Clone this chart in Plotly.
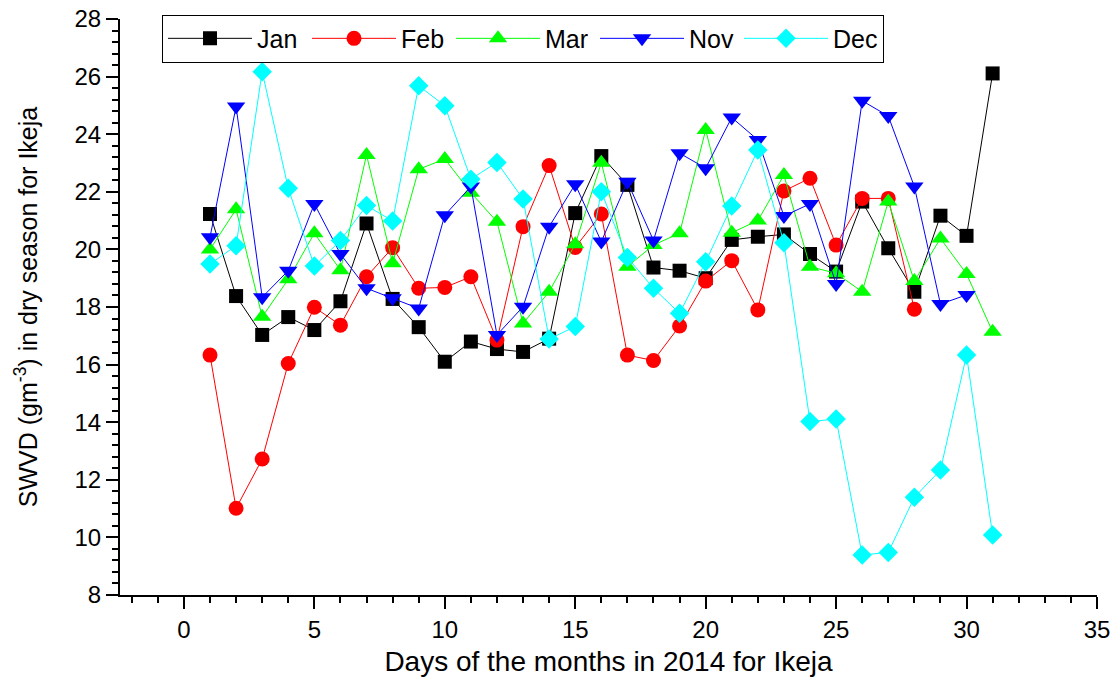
import plotly.graph_objects as go

# ---------------------------------------------------------------------------
# Data
# ---------------------------------------------------------------------------

days = list(range(1, 32))

jan = [21.23, 18.38, 17.03, 17.65, 17.2, 18.2, 20.9, 18.28, 17.3, 16.1,
       16.8, 16.54, 16.44, 16.9, 21.26, 23.24, 22.24, 19.37, 19.26, 19.0,
       20.33, 20.44, 20.52, 19.84, 19.23, 21.66, 20.04, 18.53, 21.17, 20.47,
       26.11]
feb = [16.33, 11.01, 12.72, 16.04, 17.99, 17.37, 19.05, 20.06, 18.65, 18.68,
       19.05, 16.85, 20.79, 22.91, 20.07, 21.23, 16.33, 16.14, 17.34, 18.9,
       19.61, 17.9, 22.03, 22.47, 20.15, 21.77, 21.77, 17.92]
mar = [20.0, 21.39, 17.66, 18.96, 20.56, 19.28, 23.28, 19.52, 22.78, 23.14,
       21.97, 20.96, 17.43, 18.53, 20.18, 23.01, 19.4, 20.15, 20.56, 24.15,
       20.58, 21.0, 22.58, 19.4, 19.17, 18.53, 21.66, 18.9, 20.38, 19.15,
       17.14]
nov = [20.42, 24.96, 18.34, 19.26, 21.58, 19.84, 18.65, 18.3, 17.95, 21.19,
       22.18, 17.03, 18.01, 20.79, 22.26, 20.27, 22.35, 20.31, 23.34, 22.82,
       24.58, 23.8, 21.16, 21.58, 18.8, 25.16, 24.63, 22.18, 18.1, 18.42]
dec = [19.49, 20.13, 26.17, 22.12, 19.42, 20.31, 21.52, 20.99, 25.68, 24.99,
       22.44, 23.02, 21.75, 16.89, 17.32, 22.0, 19.72, 18.65, 17.78, 19.57,
       21.51, 23.45, 20.23, 14.02, 14.11, 9.39, 9.48, 11.39, 12.34, 16.33,
       10.08]

FONT = "Liberation Sans, Arial, sans-serif"


# ---------------------------------------------------------------------------
# One month series
# ---------------------------------------------------------------------------

def _month_trace(name, values, color, symbol, size):
    return go.Scatter(
        x=days[:len(values)],
        y=values,
        mode="lines+markers",
        name=name,
        line=dict(color=color, width=1),
        marker=dict(color=color, symbol=symbol, size=size,
                    line=dict(width=0)),
    )


series = [
    ("Jan", jan, "#000000", "square", 14),
    ("Feb", feb, "#ff0000", "circle", 15),
    ("Mar", mar, "#00ff00", "triangle-up", 16),
    ("Nov", nov, "#0000ff", "triangle-down", 16),
    ("Dec", dec, "#00ffff", "diamond", 15),
]

fig = go.Figure([_month_trace(*s) for s in series])

axis_common = dict(
    showgrid=False,
    zeroline=False,
    showline=True,
    linecolor="black",
    linewidth=2,
    mirror=False,
    ticks="outside",
    ticklen=12,
    tickwidth=2,
    tickcolor="black",
    tickfont=dict(family=FONT, size=24, color="black"),
    automargin=False,
)

fig.update_xaxes(
    **axis_common,
    range=[-2.45, 35.001],
    tick0=0, dtick=5,
    minor=dict(dtick=1, tick0=0, ticks="outside", ticklen=6,
               tickwidth=2, tickcolor="black"),
    title=dict(text="Days of the months in 2014 for Ikeja",
               font=dict(family=FONT, size=28, color="black"),
               standoff=10),
)
fig.update_yaxes(
    **axis_common,
    range=[8, 28],
    tick0=8, dtick=2,
    minor=dict(dtick=0.4, tick0=8, ticks="outside", ticklen=6,
               tickwidth=2, tickcolor="black"),
    title=dict(text="SWVD (gm<sup>-3</sup>) in dry season for Ikeja",
               font=dict(family=FONT, size=25, color="black"),
               standoff=30),
)

fig.update_layout(
    width=1114,
    height=686,
    paper_bgcolor="white",
    plot_bgcolor="white",
    margin=dict(l=120, r=17, t=19, b=91),
    font=dict(family=FONT, color="black"),
    legend=dict(
        orientation="h",
        x=0.043, y=0.966,
        xanchor="left", yanchor="middle",
        bgcolor="white",
        bordercolor="black",
        borderwidth=1,
        font=dict(family=FONT, size=25, color="black"),
        entrywidth=45,
        itemwidth=84,
    ),
)

# drop the default 8px page margin so the figure sits at the window's corner
fig.write_html("out.html",
               config={"displayModeBar": False},
               post_script="document.body.style.margin = '0px';")
